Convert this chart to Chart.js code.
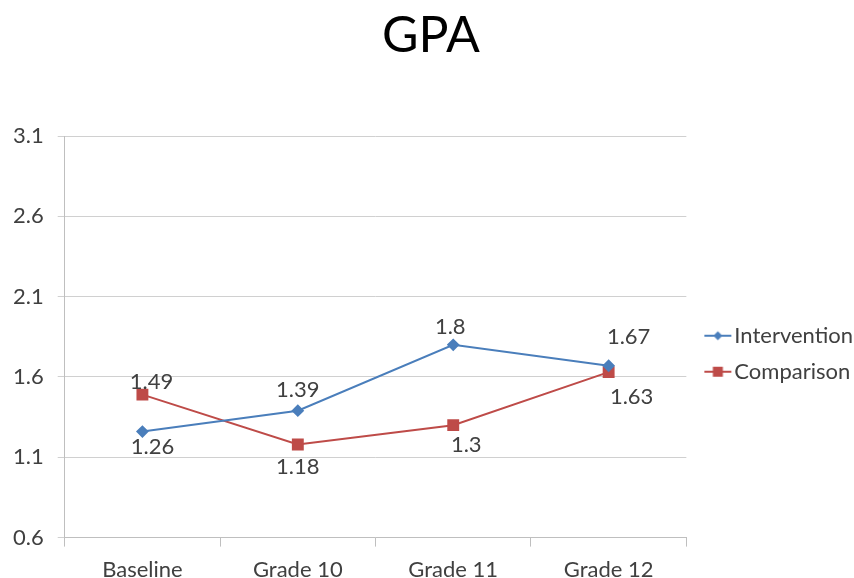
<!DOCTYPE html>
<html>
<head>
<meta charset="utf-8">
<script src="https://cdn.jsdelivr.net/npm/chart.js@4.4.1/dist/chart.umd.min.js"></script>
<style>
  html, body { margin: 0; padding: 0; background: #fff; }
  #wrap { width: 854px; height: 578px; }
</style>
</head>
<body>
<div id="wrap"><canvas id="chart" width="854" height="578"></canvas></div>
<script>
const ctx = document.getElementById('chart');

const categories = ['Baseline', 'Grade 10', 'Grade 11', 'Grade 12'];
const intervention = [1.26, 1.39, 1.8, 1.67];
const comparison = [1.49, 1.18, 1.3, 1.63];
const yTicks = [0.6, 1.1, 1.6, 2.1, 2.6, 3.1];

// where each value label sits relative to its point (px)
const interventionLabelOffset = [[10, 15], [0, -21], [-3, -18], [20, -29]];
const comparisonLabelOffset = [[9, -13], [0, 22], [13, 20], [23, 25]];

const blue_color = '#4a7ebb';
const red_color = '#be4b48';
const text_color = '#404040';
const font_family = 'Lato, "Open Sans", sans-serif';

// line + marker image used as legend symbol; the left part is left blank
// so the drawn line sits right next to the label text
function legendSymbol(color, marker) {
    const c = document.createElement('canvas');
    c.width = 41;
    c.height = 12;
    const g = c.getContext('2d');
    const x0 = 13;
    g.strokeStyle = color;
    g.lineWidth = 2;
    g.beginPath();
    g.moveTo(x0, 6);
    g.lineTo(x0 + 27, 6);
    g.stroke();
    g.fillStyle = color;
    const cx = x0 + 13.5;
    if (marker === 'diamond') {
        g.beginPath();
        g.moveTo(cx, 1.5);
        g.lineTo(cx + 4.5, 6);
        g.lineTo(cx, 10.5);
        g.lineTo(cx - 4.5, 6);
        g.closePath();
        g.fill();
    } else {
        g.fillRect(cx - 5, 1, 10, 10);
    }
    return c;
}

const valueLabels = {
    id: 'valueLabels',
    afterDatasetsDraw(chart) {
        const c = chart.ctx;
        const offsets = [interventionLabelOffset, comparisonLabelOffset];
        c.save();
        c.font = '22px ' + font_family;
        c.fillStyle = text_color;
        c.textAlign = 'center';
        c.textBaseline = 'middle';
        chart.data.datasets.forEach((ds, i) => {
            chart.getDatasetMeta(i).data.forEach((pt, j) => {
                const off = offsets[i][j];
                c.fillText(String(ds.data[j]), pt.x + off[0], pt.y + off[1]);
            });
        });
        c.restore();
    }
};

const data = {
    labels: categories,
    datasets: [{
        label: 'Intervention',
        data: intervention,
        borderColor: blue_color,
        backgroundColor: blue_color,
        borderWidth: 2,
        pointStyle: 'rectRot',
        pointRadius: 5,
        pointHoverRadius: 5,
        tension: 0
    }, {
        label: 'Comparison',
        data: comparison,
        borderColor: red_color,
        backgroundColor: red_color,
        borderWidth: 2,
        pointStyle: 'rect',
        pointRadius: 7,
        pointHoverRadius: 7,
        tension: 0
    }]
};

const symbols = [legendSymbol(blue_color, 'diamond'), legendSymbol(red_color, 'square')];

const config = {
    type: 'line',
    data: data,
    plugins: [valueLabels],
    options: {
        responsive: false,
        animation: false,
        layout: {
            padding: { left: -1, right: -9, top: 0, bottom: -15 }
        },
        plugins: {
            title: {
                display: true,
                text: 'GPA',
                color: '#000',
                font: { family: font_family, size: 50, weight: 'normal' },
                padding: { top: 6, bottom: 70 }
            },
            legend: {
                position: 'right',
                title: {
                    display: true,
                    text: ' ',
                    font: { size: 12 },
                    padding: { top: 0, bottom: 100 }
                },
                labels: {
                    usePointStyle: true,
                    pointStyleWidth: 23,
                    padding: 14,
                    color: text_color,
                    font: { family: font_family, size: 22 },
                    generateLabels(chart) {
                        return chart.data.datasets.map((ds, i) => ({
                            text: ds.label,
                            fontColor: text_color,
                            pointStyle: symbols[i],
                            lineWidth: 0,
                            datasetIndex: i
                        }));
                    }
                }
            },
            tooltip: { enabled: false }
        },
        scales: {
            x: {
                offset: true,
                grid: {
                    display: true,
                    drawOnChartArea: false,
                    offset: true,
                    color: '#bfbfbf',
                    tickLength: 9
                },
                border: { color: '#bfbfbf', width: 1 },
                ticks: {
                    color: text_color,
                    font: { family: font_family, size: 22 },
                    padding: 10
                }
            },
            y: {
                min: yTicks[0],
                max: yTicks[yTicks.length - 1],
                afterBuildTicks(axis) {
                    axis.ticks = yTicks.map(v => ({ value: v }));
                },
                grid: {
                    color: '#d0d0d0',
                    tickLength: 7
                },
                border: { color: '#bfbfbf', width: 1 },
                ticks: {
                    color: text_color,
                    font: { family: font_family, size: 22 },
                    padding: 14,
                    callback: v => v.toFixed(1)
                }
            }
        }
    }
};

const myChart = new Chart(ctx, config);
</script>
</body>
</html>
